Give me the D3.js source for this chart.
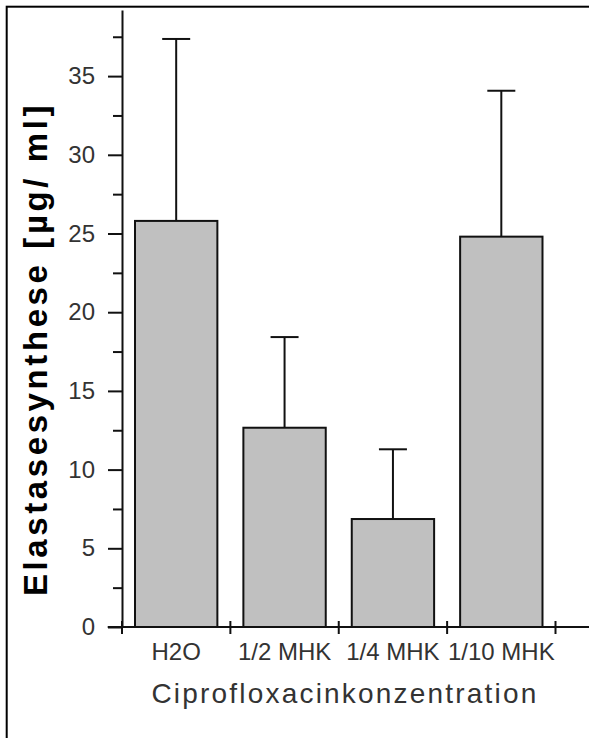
<!DOCTYPE html>
<html>
<head>
<meta charset="utf-8">
<script src="https://cdn.jsdelivr.net/npm/d3@7"></script>
<style>
  body { margin: 0; background: #fff; }
  svg { display: block; }
  text { font-family: "Liberation Sans", Arial, sans-serif; }
</style>
</head>
<body>
<div id="chart"></div>
<script>
// values
var categories = ["H2O", "1/2 MHK", "1/4 MHK", "1/10 MHK"];
var means = [25.8, 12.66, 6.86, 24.8];
var sds = [11.56, 5.76, 4.43, 9.27];
var yTicks = [0, 5, 10, 15, 20, 25, 30, 35];
var yMinorTicks = [2.5, 7.5, 12.5, 17.5, 22.5, 27.5, 32.5, 37.5];

var width = 589, height = 738;

var svg = d3.select("#chart").append("svg")
    .attr("width", width)
    .attr("height", height);

// frame, only top and left edge show
svg.append("rect")
    .attr("x", 6.7)
    .attr("y", 6.7)
    .attr("width", width + 20)
    .attr("height", height + 20)
    .attr("fill", "none")
    .attr("stroke", "#000")
    .attr("stroke-width", 2);

var x = d3.scaleBand()
    .domain(categories)
    .range([122, 555.5])
    .paddingInner(0.24)
    .paddingOuter(0.12);

var y = d3.scaleLinear()
    .domain([0, 39.2])
    .range([627, 10]);

var data = categories.map(function(c, i) {
    return { name: c, mean: means[i], sd: sds[i] };
});

/* bars */
svg.selectAll(".bar")
    .data(data).enter().append("rect")
    .attr("class", "bar")
    .attr("x", function(d) { return x(d.name); })
    .attr("y", function(d) { return y(d.mean); })
    .attr("width", x.bandwidth())
    .attr("height", function(d) { return y(0) - y(d.mean); })
    .attr("fill", "#c0c0c0")
    .attr("stroke", "#111")
    .attr("stroke-width", 2);

/* error bars */
var err = svg.selectAll(".err")
    .data(data).enter().append("g")
    .attr("class", "err")
    .attr("stroke", "#111")
    .attr("stroke-width", 2);

err.append("line")
    .attr("x1", function(d) { return x(d.name) + x.bandwidth() / 2; })
    .attr("x2", function(d) { return x(d.name) + x.bandwidth() / 2; })
    .attr("y1", function(d) { return y(d.mean); })
    .attr("y2", function(d) { return y(d.mean + d.sd); });

err.append("line")
    .attr("x1", function(d) { return x(d.name) + x.bandwidth() / 2 - 14; })
    .attr("x2", function(d) { return x(d.name) + x.bandwidth() / 2 + 14; })
    .attr("y1", function(d) { return y(d.mean + d.sd); })
    .attr("y2", function(d) { return y(d.mean + d.sd); });

/* y axis */
var yAxis = svg.append("g")
    .attr("transform", "translate(122,0)")
    .call(d3.axisLeft(y)
        .tickValues(yTicks)
        .tickSize(14)
        .tickSizeOuter(0)
        .tickPadding(13)
        .tickFormat(d3.format("d")));

svg.append("g")
    .attr("transform", "translate(122,0)")
    .call(d3.axisLeft(y)
        .tickValues(yMinorTicks)
        .tickSize(9)
        .tickSizeOuter(0)
        .tickFormat(""))
  .select(".domain").remove();

svg.selectAll(".tick line, .domain")
    .attr("stroke", "#111")
    .attr("stroke-width", 2);

yAxis.selectAll("text")
    .attr("font-size", 24)
    .attr("font-family", "Liberation Sans, Arial, sans-serif")
    .attr("fill", "#333");

/* x axis */
var bounds = categories.map(function(c) {
    return x(c) - x.paddingOuter() * x.step();
});
bounds.push(x.range()[1]);

svg.append("line")
    .attr("x1", 107.7)
    .attr("x2", width)
    .attr("y1", y(0))
    .attr("y2", y(0))
    .attr("stroke", "#111")
    .attr("stroke-width", 2);

svg.selectAll(".xtick")
    .data(bounds).enter().append("line")
    .attr("class", "xtick")
    .attr("x1", function(d) { return d; })
    .attr("x2", function(d) { return d; })
    .attr("y1", y(0) - 6)
    .attr("y2", y(0) + 7)
    .attr("stroke", "#111")
    .attr("stroke-width", 2);

svg.selectAll(".xlabel")
    .data(categories).enter().append("text")
    .attr("class", "xlabel")
    .attr("x", function(d) { return x(d) + x.bandwidth() / 2; })
    .attr("y", 660)
    .attr("text-anchor", "middle")
    .attr("font-size", 24)
    .attr("fill", "#333")
    .text(function(d) { return d; });

/* axis titles */
svg.append("text")
    .attr("x", 345)
    .attr("y", 703)
    .attr("text-anchor", "middle")
    .attr("font-size", 28)
    .attr("letter-spacing", 2.2)
    .attr("fill", "#333")
    .text("Ciprofloxacinkonzentration");

svg.append("text")
    .attr("transform", "translate(47,349) rotate(-90)")
    .attr("text-anchor", "middle")
    .attr("font-size", 33)
    .attr("font-weight", "bold")
    .attr("letter-spacing", 3.6)
    .attr("fill", "#000")
    .text("Elastasesynthese [µg/ ml]");
</script>
</body>
</html>
